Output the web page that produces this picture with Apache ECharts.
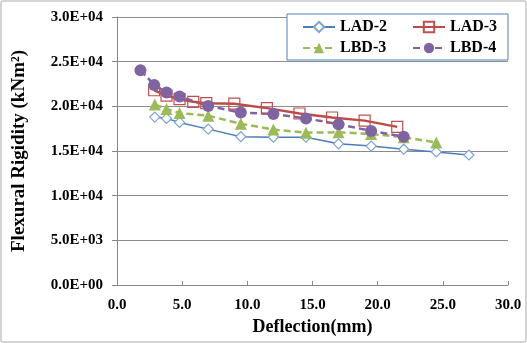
<!DOCTYPE html>
<html>
<head>
<meta charset="utf-8">
<script src="https://cdn.jsdelivr.net/npm/echarts@6/dist/echarts.min.js"></script>
<style>
    body { margin: 0; background: #fff; }
    #chart {
        width: 527px;
        height: 343px;
        box-sizing: border-box;
        border: 2px solid #d4d4d4;
        border-radius: 3px;
    }
</style>
</head>
<body>
<div id="chart"></div>
<script>
// values: [deflection mm, rigidity kNm^2]
const lad2 = [[2.9,18800],[3.8,18650],[4.8,18200],[7.0,17450],[9.5,16600],[12.0,16550],[14.5,16550],[17.0,15800],[19.5,15550],[22.0,15200],[24.5,14900],[27.0,14550]];
const lad3 = [[2.85,21800],[3.8,21200],[4.8,20800],[5.85,20500],[6.85,20350],[9.0,20300],[11.5,19800],[14.0,19200],[16.5,18750],[19.0,18400],[21.5,17700]];
const lbd3 = [[2.9,20200],[3.8,19700],[4.8,19250],[7.0,18950],[9.5,18050],[12.0,17400],[14.5,17050],[17.0,17100],[19.5,16900],[22.0,16550],[24.5,15950]];
const lbd4 = [[1.8,24050],[2.85,22400],[3.8,21550],[4.8,21100],[7.0,20050],[9.5,19300],[12.0,19150],[14.5,18650],[17.0,18000],[19.5,17250],[22.0,16600]];
const leftLegend = ['LAD-2', 'LBD-3'];
const rightLegend = ['LAD-3', 'LBD-4'];

const serif = 'Liberation Serif';

function sci(v) {
    if (v === 0) return '0.0E+00';
    let e = Math.floor(Math.log10(Math.abs(v)));
    let m = v / Math.pow(10, e);
    return m.toFixed(1) + 'E+' + String(e).padStart(2, '0');
}

function legendCol(left, names) {
    return {
        orient: 'vertical',
        left: left, top: 17,
        itemWidth: 32, itemHeight: 13,
        itemGap: 5,
        padding: 0,
        z: 10,
        textStyle: { fontFamily: serif, fontWeight: 'bold', fontSize: 16, color: '#000' },
        data: names
    };
}

let myChart = echarts.init(document.getElementById('chart'));
myChart.setOption({
    animation: false,
    grid: { left: 109, right: 17, top: 15, bottom: 56 },
    graphic: [{
        type: 'rect',
        shape: { x: 285, y: 12, width: 221, height: 46 },
        style: { fill: '#fff', stroke: '#4f81bd', lineWidth: 1 },
        z: 3
    }],
    legend: [legendCol(300, leftLegend), legendCol(410, rightLegend)],
    xAxis: {
        type: 'value',
        min: 0, max: 30, interval: 5,
        name: 'Deflection(mm)',
        nameLocation: 'middle',
        nameGap: 32,
        nameTextStyle: { fontFamily: serif, fontWeight: 'bold', fontSize: 18, color: '#000' },
        axisLine: { lineStyle: { color: '#888' } },
        axisTick: { inside: true, length: 4, lineStyle: { color: '#888' } },
        splitLine: { show: false },
        axisLabel: {
            formatter: v => v.toFixed(1),
            fontFamily: serif, fontWeight: 'bold', fontSize: 15, color: '#000', margin: 13
        }
    },
    yAxis: {
        type: 'value',
        min: 0, max: 30000, interval: 5000,
        name: 'Flexural Rigidity (kNm²)',
        nameLocation: 'middle',
        nameGap: 88,
        nameTextStyle: { fontFamily: serif, fontWeight: 'bold', fontSize: 19, color: '#000' },
        axisLine: { show: true, lineStyle: { color: '#888' } },
        axisTick: { show: true, length: 5, lineStyle: { color: '#888' } },
        splitLine: { lineStyle: { color: '#8c8c8c' } },
        axisLabel: {
            formatter: sci,
            fontFamily: serif, fontWeight: 'bold', fontSize: 15, color: '#000', margin: 14
        }
    },
    series: [
        {
            name: 'LAD-2', type: 'line', data: lad2,
            symbol: 'diamond', symbolSize: 10,
            lineStyle: { color: '#4a7ebb', width: 1.5 },
            itemStyle: { color: '#fff', borderColor: '#7da3d6', borderWidth: 1.2 }
        },
        {
            name: 'LAD-3', type: 'line', data: lad3,
            symbol: 'rect', symbolSize: 11,
            lineStyle: { color: '#be4b48', width: 2.5 },
            itemStyle: { color: 'rgba(255,255,255,0)', borderColor: '#c0504d', borderWidth: 1.2 }
        },
        {
            name: 'LBD-3', type: 'line', data: lbd3,
            symbol: 'triangle', symbolSize: 12,
            lineStyle: { color: '#9bbb59', width: 2.5, type: [7, 4] },
            itemStyle: { color: '#9bbb59' }
        },
        {
            name: 'LBD-4', type: 'line', data: lbd4,
            symbol: 'circle', symbolSize: 12,
            lineStyle: { color: '#8064a2', width: 2.5, type: [7, 4] },
            itemStyle: { color: '#8064a2' }
        }
    ]
});
</script>
</body>
</html>
